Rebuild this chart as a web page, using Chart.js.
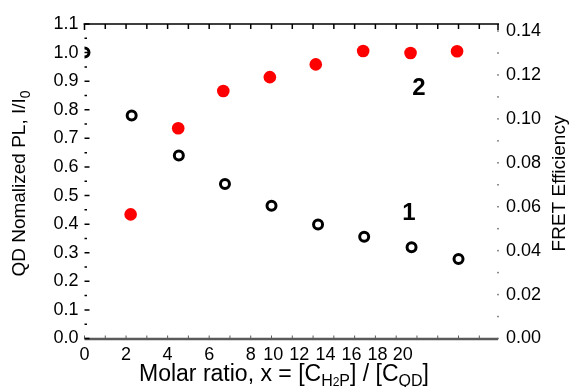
<!DOCTYPE html>
<html>
<head>
<meta charset="utf-8">
<script src="https://cdn.jsdelivr.net/npm/chart.js@4.4.1/dist/chart.umd.min.js"></script>
<style>
  html, body { margin: 0; padding: 0; background: #fff; }
</style>
</head>
<body>
<canvas id="chart" width="571" height="387"></canvas>
<script>
// curve 1: QD normalized PL (left axis), curve 2: FRET efficiency (right axis)
const plX = [0, 2.27, 4.54, 6.76, 9.0, 11.24, 13.46, 15.74, 18.0];
const plY = [1.0, 0.78, 0.64, 0.54, 0.464, 0.399, 0.356, 0.319, 0.278];
const fretX = [2.22, 4.51, 6.68, 8.92, 11.13, 13.41, 15.69, 17.93];
const fretY = [0.0565, 0.0957, 0.1127, 0.119, 0.1248, 0.1309, 0.130, 0.1308];

// x axis: tick marks every 1, labels where they sit in the figure
const xTicks = [0, 1, 2, 3, 4, 5, 6, 7, 8, 9, 10, 11, 12, 13, 14, 15, 16, 17, 18, 19];
const xTickLabels = ['0', '2', '4', '6', '8', '10', '12', '14', '16', '18', '20'];
const xTickLabelAt = [0, 2, 4, 6, 8, 9.08, 10.33, 11.6, 12.85, 14.1, 15.32];

const leftTicks = [0, 0.1, 0.2, 0.3, 0.4, 0.5, 0.6, 0.7, 0.8, 0.9, 1.0, 1.1];
const leftTickLabels = ['0.0', '0.1', '0.2', '0.3', '0.4', '0.5', '0.6', '0.7', '0.8', '0.9', '1.0', '1.1'];
const leftMinor = [0.05, 0.15, 0.25, 0.35, 0.45, 0.55, 0.65, 0.75, 0.85, 0.95, 1.05];

const rightTicks = [0, 0.02, 0.04, 0.06, 0.08, 0.10, 0.12, 0.14];
const rightTickLabels = ['0.00', '0.02', '0.04', '0.06', '0.08', '0.10', '0.12', '0.14'];
const rightMinor = [0.01, 0.03, 0.05, 0.07, 0.09, 0.11, 0.13];

// curve numbers: [text, x, left-axis y]
const curveLabels = [['1', 15.61, 0.439], ['2', 16.10, 0.876]];

const FONT = "'Liberation Sans', Arial, Helvetica, sans-serif";

function drawRuns(ctx, runs, x0, y0) {
    let w = 0;
    runs.forEach(r => { ctx.font = `${r.size}px ${FONT}`; w += ctx.measureText(r.t).width; });
    let x = x0 - w / 2;
    ctx.textAlign = 'left';
    ctx.textBaseline = 'alphabetic';
    runs.forEach(r => {
        ctx.font = `${r.size}px ${FONT}`;
        ctx.fillText(r.t, x, y0 + (r.dy || 0));
        x += ctx.measureText(r.t).width;
    });
}

const frame = {
    id: 'frame',
    afterDraw(chart) {
        const {ctx, chartArea: a, scales: {x, y, y2}} = chart;
        ctx.save();

        // top line with inward ticks
        ctx.strokeStyle = '#000';
        ctx.lineWidth = 1.5;
        ctx.beginPath();
        ctx.moveTo(a.left - 1, a.top);
        ctx.lineTo(a.right + 1, a.top);
        ctx.moveTo(a.left, a.top);
        ctx.lineTo(a.left, a.top + 6);
        ctx.moveTo(a.right, a.top);
        ctx.lineTo(a.right, a.top + 6);
        xTicks.forEach(v => {
            const px = x.getPixelForValue(v);
            ctx.moveTo(px, a.top);
            ctx.lineTo(px, a.top + 5);
        });
        ctx.stroke();

        // bottom line
        ctx.strokeStyle = '#5a5a5a';
        ctx.lineWidth = 2.5;
        ctx.beginPath();
        ctx.moveTo(a.left, a.bottom + 0.5);
        ctx.lineTo(a.right, a.bottom + 0.5);
        ctx.stroke();
        ctx.lineWidth = 1;
        ctx.beginPath();
        xTicks.forEach(v => {
            const px = x.getPixelForValue(v);
            ctx.moveTo(px, a.bottom);
            ctx.lineTo(px, a.bottom - 3);
        });
        ctx.stroke();

        // left ticks
        ctx.strokeStyle = '#000';
        ctx.lineWidth = 1.5;
        ctx.beginPath();
        leftTicks.forEach(v => {
            const py = y.getPixelForValue(v);
            ctx.moveTo(a.left, py);
            ctx.lineTo(a.left + 5, py);
        });
        leftMinor.forEach(v => {
            const py = y.getPixelForValue(v);
            ctx.moveTo(a.left, py);
            ctx.lineTo(a.left + 2.5, py);
        });
        ctx.stroke();

        // right ticks are just dots
        ctx.fillStyle = '#666';
        rightTicks.concat(rightMinor).forEach(v => {
            const py = y2.getPixelForValue(v);
            ctx.fillRect(a.right - 0.75, py - 0.75, 1.5, 1.5);
        });

        // x tick labels
        ctx.fillStyle = '#000';
        ctx.font = `18px ${FONT}`;
        ctx.textAlign = 'center';
        ctx.textBaseline = 'alphabetic';
        xTickLabels.forEach((t, i) => {
            ctx.fillText(t, x.getPixelForValue(xTickLabelAt[i]), a.bottom + 21.5);
        });

        // x title
        drawRuns(ctx, [
            {t: 'Molar ratio, x = [C', size: 23},
            {t: 'H', size: 16, dy: 5},
            {t: '2', size: 12, dy: 5},
            {t: 'P', size: 16, dy: 5},
            {t: '] / [C', size: 23},
            {t: 'QD', size: 16, dy: 5},
            {t: ']', size: 23}
        ], 284, 381);

        // left title
        ctx.save();
        ctx.translate(25, 183.5);
        ctx.rotate(-Math.PI / 2);
        drawRuns(ctx, [
            {t: 'QD Nomalized PL, I/I', size: 19},
            {t: '0', size: 14, dy: 5}
        ], 0, 0);
        ctx.restore();

        // right title
        ctx.save();
        ctx.translate(565, 183.5);
        ctx.rotate(-Math.PI / 2);
        drawRuns(ctx, [{t: 'FRET Efficiency', size: 19}], 0, 0);
        ctx.restore();

        // curve numbers
        ctx.font = `bold 24px ${FONT}`;
        ctx.textAlign = 'center';
        ctx.textBaseline = 'middle';
        curveLabels.forEach(([t, vx, vy]) => {
            ctx.fillText(t, x.getPixelForValue(vx), y.getPixelForValue(vy));
        });

        ctx.restore();
    }
};

new Chart(document.getElementById('chart'), {
    type: 'scatter',
    data: {
        datasets: [{
            label: 'QD PL',
            yAxisID: 'y',
            data: plX.map((v, i) => ({x: v, y: plY[i]})),
            pointRadius: 4.5,
            pointBorderWidth: 3,
            pointBorderColor: '#000',
            pointBackgroundColor: '#fff',
            clip: {left: 0, top: false, right: false, bottom: false}
        }, {
            label: 'FRET',
            yAxisID: 'y2',
            data: fretX.map((v, i) => ({x: v, y: fretY[i]})),
            pointRadius: 6.3,
            pointBorderWidth: 0,
            pointBackgroundColor: '#ff0000'
        }]
    },
    options: {
        responsive: false,
        animation: false,
        devicePixelRatio: 1,
        layout: {padding: {top: 24, left: 0, right: 0, bottom: 0}},
        plugins: {legend: {display: false}, tooltip: {enabled: false}},
        scales: {
            x: {
                type: 'linear',
                min: 0,
                max: 19.9,
                ticks: {display: false},
                grid: {display: false, drawTicks: false},
                border: {display: false},
                afterFit: s => { s.height = 48.5; }
            },
            y: {
                position: 'left',
                min: 0,
                max: 1.1,
                afterBuildTicks: s => { s.ticks = leftTicks.map(v => ({value: v})); },
                ticks: {
                    callback: (v, i) => leftTickLabels[i],
                    font: {size: 18, family: FONT},
                    color: '#000',
                    padding: 6,
                    autoSkip: false
                },
                grid: {display: false, drawTicks: false},
                border: {display: false},
                afterFit: s => { s.width = 84.5; }
            },
            y2: {
                position: 'right',
                min: 0,
                max: 0.1432,
                afterBuildTicks: s => { s.ticks = rightTicks.map(v => ({value: v})); },
                ticks: {
                    callback: (v, i) => rightTickLabels[i],
                    font: {size: 18, family: FONT},
                    color: '#000',
                    padding: 8,
                    autoSkip: false
                },
                grid: {display: false, drawTicks: false},
                border: {display: false},
                afterFit: s => { s.width = 73; }
            }
        }
    },
    plugins: [frame]
});
</script>
</body>
</html>
